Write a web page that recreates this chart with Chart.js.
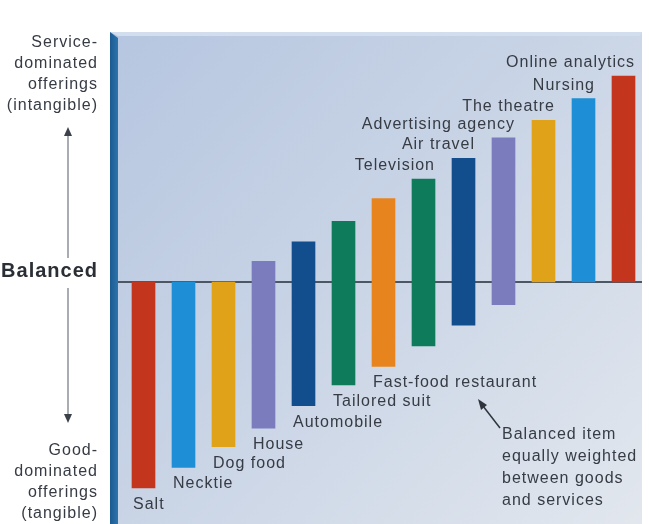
<!DOCTYPE html>
<html>
<head>
<meta charset="utf-8">
<script src="https://cdn.jsdelivr.net/npm/chart.js@4/dist/chart.umd.min.js"></script>
<style>
  html, body { margin: 0; padding: 0; background: #fff; }
  canvas { display: block; }
</style>
</head>
<body>
<canvas id="spectrumChart" width="650" height="524"></canvas>
<script>
// Goods / services spectrum
const categories = ['Salt', 'Necktie', 'Dog food', 'House', 'Automobile', 'Tailored suit',
    'Fast-food restaurant', 'Television', 'Air travel', 'Advertising agency',
    'The theatre', 'Nursing', 'Online analytics'];
const lowValues = [-10, -9, -8, -7.1, -6, -5, -4.1, -3.1, -2.1, -1.1, 0, 0, 0];
const highValues = [0, 0, 0, 1, 1.95, 2.95, 4.05, 5, 6, 7, 7.85, 8.9, 10];
const labelAtTop = [false, false, false, false, false, false, false, true, true, true, true, true, true];
const barColors = ['#c4351d', '#1e8fd6', '#dfa219', '#7a7cbd', '#124e8e', '#0e7c5a',
    '#e8841e', '#0e7c5a', '#124e8e', '#7a7cbd', '#dfa219', '#1e8fd6', '#c4351d'];

const TEXT = '#363b44';
const FONT = '"Liberation Sans", Arial, sans-serif';

const panelPlugin = {
    id: 'panel',
    beforeDraw(chart) {
        const ctx = chart.ctx;
        const y0 = chart.scales.y.getPixelForValue(0);
        ctx.save();
        // panel
        const g = ctx.createLinearGradient(110, 32, 642, 524);
        g.addColorStop(0, '#b6c6e0');
        g.addColorStop(0.5, '#cad5e6');
        g.addColorStop(1, '#e2e7ee');
        ctx.fillStyle = g;
        ctx.fillRect(110, 32, 532, 492);
        // top bevel
        ctx.fillStyle = '#d2ddee';
        ctx.beginPath();
        ctx.moveTo(110, 32); ctx.lineTo(642, 32); ctx.lineTo(640, 36); ctx.lineTo(118, 36);
        ctx.closePath(); ctx.fill();
        // left edge
        const lg = ctx.createLinearGradient(110, 0, 118, 0);
        lg.addColorStop(0, '#1b5a90');
        lg.addColorStop(1, '#2d74ad');
        ctx.fillStyle = lg;
        ctx.beginPath();
        ctx.moveTo(110, 32); ctx.lineTo(118, 38); ctx.lineTo(118, 524); ctx.lineTo(110, 524);
        ctx.closePath(); ctx.fill();
        // balanced line
        ctx.strokeStyle = '#4d5663';
        ctx.lineWidth = 2;
        ctx.beginPath();
        ctx.moveTo(118, y0); ctx.lineTo(642, y0);
        ctx.stroke();

        // left side texts
        ctx.fillStyle = TEXT;
        ctx.textAlign = 'right';
        ctx.textBaseline = 'alphabetic';
        ctx.letterSpacing = '1px';
        ctx.font = '16px ' + FONT;
        ['Service-', 'dominated', 'offerings', '(intangible)'].forEach((t, i) => ctx.fillText(t, 98, 47 + i * 21));
        ['Good-', 'dominated', 'offerings', '(tangible)'].forEach((t, i) => ctx.fillText(t, 98, 455 + i * 21));
        ctx.fillStyle = '#2a2e35';
        ctx.font = 'bold 20px ' + FONT;
        ctx.fillText('Balanced', 98, y0 - 5);

        // left arrows
        ctx.strokeStyle = '#a9adb3';
        ctx.lineWidth = 2;
        ctx.beginPath();
        ctx.moveTo(68, 134); ctx.lineTo(68, 258);
        ctx.moveTo(68, 288); ctx.lineTo(68, 416);
        ctx.stroke();
        ctx.fillStyle = '#3c4048';
        ctx.beginPath();
        ctx.moveTo(68, 127); ctx.lineTo(64, 136); ctx.lineTo(72, 136); ctx.closePath(); ctx.fill();
        ctx.beginPath();
        ctx.moveTo(68, 423); ctx.lineTo(64, 414); ctx.lineTo(72, 414); ctx.closePath(); ctx.fill();
        ctx.restore();
    },
    afterDatasetsDraw(chart) {
        const ctx = chart.ctx;
        const bars = chart.getDatasetMeta(0).data;
        ctx.save();
        ctx.fillStyle = TEXT;
        ctx.font = '16px ' + FONT;
        ctx.letterSpacing = '1px';
        ctx.textBaseline = 'alphabetic';
        bars.forEach((bar, i) => {
            const left = bar.x - bar.width / 2;
            const right = bar.x + bar.width / 2;
            const top = Math.min(bar.y, bar.base);
            const bottom = Math.max(bar.y, bar.base);
            if (labelAtTop[i]) {
                ctx.textAlign = 'right';
                ctx.fillText(categories[i], right, top - 9);
            } else {
                ctx.textAlign = 'left';
                ctx.fillText(categories[i], left + 1, bottom + 21);
            }
        });

        // annotation
        ctx.textAlign = 'left';
        ['Balanced item', 'equally weighted', 'between goods', 'and services']
            .forEach((t, i) => ctx.fillText(t, 502, 439 + i * 22));
        ctx.strokeStyle = '#2f343c';
        ctx.lineWidth = 1.5;
        ctx.beginPath();
        ctx.moveTo(500, 428); ctx.lineTo(483, 406);
        ctx.stroke();
        ctx.fillStyle = '#2f343c';
        ctx.beginPath();
        ctx.moveTo(478, 399); ctx.lineTo(481, 410); ctx.lineTo(487, 405); ctx.closePath(); ctx.fill();
        ctx.restore();
    }
};

new Chart(document.getElementById('spectrumChart').getContext('2d'), {
    type: 'bar',
    data: {
        labels: categories,
        datasets: [{
            data: categories.map((c, i) => [lowValues[i], highValues[i]]),
            backgroundColor: barColors,
            borderWidth: 0,
            borderSkipped: false,
            barThickness: 23
        }]
    },
    options: {
        responsive: false,
        animation: false,
        devicePixelRatio: 1,
        layout: { padding: { left: 123.5, right: 6.5, top: 33, bottom: 0 } },
        plugins: { legend: { display: false }, tooltip: { enabled: false } },
        scales: {
            x: { display: false, offset: true },
            y: { display: false, min: -11.75, max: 12.09 }
        }
    },
    plugins: [panelPlugin]
});
</script>
</body>
</html>
